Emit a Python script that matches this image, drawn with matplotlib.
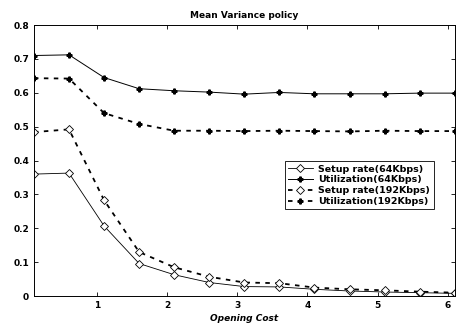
import matplotlib
matplotlib.use("Agg")
import matplotlib.pyplot as plt
import numpy as np

opening_cost = [0.1, 0.6, 1.1, 1.6, 2.1, 2.6, 3.1, 3.6, 4.1, 4.6, 5.1, 5.6, 6.1]
setup_64 = [0.36, 0.363, 0.207, 0.096, 0.063, 0.040, 0.028, 0.027, 0.020, 0.015, 0.012, 0.010, 0.008]
util_64 = [0.710, 0.712, 0.645, 0.612, 0.606, 0.602, 0.596, 0.601, 0.597, 0.597, 0.597, 0.599, 0.599]
setup_192 = [0.484, 0.492, 0.283, 0.130, 0.085, 0.057, 0.040, 0.038, 0.025, 0.020, 0.017, 0.013, 0.010]
util_192 = [0.643, 0.642, 0.540, 0.508, 0.488, 0.488, 0.487, 0.488, 0.487, 0.486, 0.488, 0.487, 0.487]
labels = ["Setup rate(64Kbps)", "Utilization(64Kbps)", "Setup rate(192Kbps)", "Utilization(192Kbps)"]

plt.rcParams['font.family'] = ['DejaVu Sans']
fig = plt.figure(figsize=(4.65, 3.25), dpi=100)
ax = fig.add_axes([0.073, 0.089, 0.905, 0.834])

ax.plot(opening_cost, setup_64, color='black', lw=0.6, ls='-', marker='D', ms=4.5,
        mfc='white', mec='black', mew=0.6, label=labels[0])
ax.plot(opening_cost, util_64, color='black', lw=0.7, ls='-', marker='P', ms=3.5,
        mfc='black', mec='black', label=labels[1])
ax.plot(opening_cost, setup_192, color='black', lw=1.3, ls=(0, (2.5, 3)), marker='D', ms=4.5,
        mfc='white', mec='black', mew=0.6, label=labels[2])
ax.plot(opening_cost, util_192, color='black', lw=1.3, ls=(0, (2.5, 3)), marker='P', ms=3.5,
        mfc='black', mec='black', label=labels[3])

ax.set_xlim(0.1, 6.1)
ax.set_ylim(0, 0.8)
ax.set_xticks([1, 2, 3, 4, 5, 6])
ax.set_yticks([0, 0.1, 0.2, 0.3, 0.4, 0.5, 0.6, 0.7, 0.8])
ax.set_yticklabels(["0", "0.1", "0.2", "0.3", "0.4", "0.5", "0.6", "0.7", "0.8"])
ax.tick_params(direction='in', top=True, right=True, length=3, width=0.6, labelsize=6.5)
for lbl in ax.get_xticklabels() + ax.get_yticklabels():
    lbl.set_fontweight('bold')
for s in ax.spines.values():
    s.set_linewidth(0.7)

ax.set_title("Mean Variance policy", fontsize=6.5, fontweight='bold', pad=5)
ax.set_xlabel("Opening Cost", fontsize=6.5, fontweight='bold', style='italic', labelpad=3)

leg = ax.legend(loc='upper left', bbox_to_anchor=(0.585, 0.515),
                prop={'weight': 'bold', 'size': 6.8}, frameon=True, fancybox=False,
                edgecolor='black', framealpha=1, handlelength=2.6, borderpad=0.35,
                labelspacing=0.2, handletextpad=0.6)
leg.get_frame().set_linewidth(0.6)

fig.savefig("out.png", dpi=100)
